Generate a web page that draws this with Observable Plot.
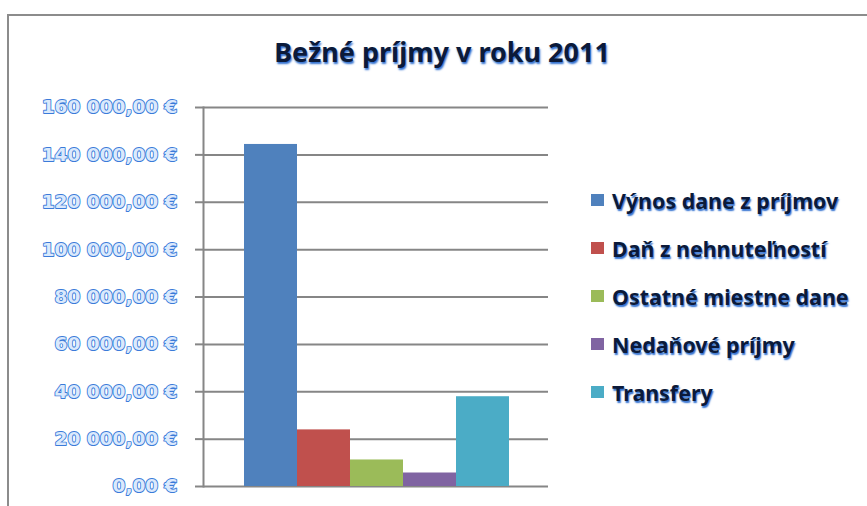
<!DOCTYPE html>
<html>
<head>
<meta charset="utf-8">
<script src="https://cdn.jsdelivr.net/npm/d3@7"></script>
<script src="https://cdn.jsdelivr.net/npm/@observablehq/plot@0.6"></script>
<style>
  html, body { margin: 0; padding: 0; background: #fff; }
  #wrap { position: relative; width: 867px; height: 506px; overflow: hidden; font-family: "Noto Sans", Lato, sans-serif; }
  #border { position: absolute; left: 7px; top: 14px; width: 900px; height: 600px; border-left: 2px solid #8c8c8c; border-top: 2px solid #8c8c8c; box-sizing: border-box; }
  #title { position: absolute; left: 0; width: 884px; top: 34px; text-align: center; font-size: 27px; line-height: 1.362; font-weight: bold; color: #0b1a3a; text-shadow: 1px 2px 2px #2f6fd0; }
  #legend { position: absolute; left: 591px; top: 176px; }
  .item { height: 48px; display: flex; align-items: center; font-size: 21.4px; font-weight: bold; color: #0b1a3a; text-shadow: 1px 1.5px 1.5px #2f6fd0; }
  .sw { width: 13px; height: 12px; margin-right: 8px; flex: none; }
  #chart { position: absolute; left: 0; top: 0; }
</style>
</head>
<body>
<div id="wrap">
  <div id="border"></div>
  <div id="chart"></div>
  <div id="title"></div>
  <div id="legend"></div>
</div>
<script>
const title = "Bežné príjmy v roku 2011";
const series = ["Výnos dane z príjmov", "Daň z nehnuteľností", "Ostatné miestne dane", "Nedaňové príjmy", "Transfery"];
const values = [144400, 23900, 11200, 5700, 37900];
const colors = ["#4f81bd", "#c0504d", "#9bbb59", "#8064a2", "#4bacc6"];
const yTicks = [0, 20000, 40000, 60000, 80000, 100000, 120000, 140000, 160000];
const yTickLabels = ["0,00 €", "20 000,00 €", "40 000,00 €", "60 000,00 €", "80 000,00 €", "100 000,00 €", "120 000,00 €", "140 000,00 €", "160 000,00 €"];

const data = series.map((s, i) => ({name: s, value: values[i]}));

document.getElementById("title").textContent = title;
const legend = document.getElementById("legend");
series.forEach((s, i) => {
  const item = document.createElement("div");
  item.className = "item";
  const sw = document.createElement("span");
  sw.className = "sw";
  sw.style.background = colors[i];
  item.appendChild(sw);
  item.appendChild(document.createTextNode(s));
  legend.appendChild(item);
});

const chart = Plot.plot({
  width: 867,
  height: 506,
  marginLeft: 203,
  marginRight: 319,
  marginTop: 107,
  marginBottom: 20,
  style: {fontFamily: "'DejaVu Sans', sans-serif", background: "transparent"},
  x: {domain: series, padding: 0, insetLeft: 40, insetRight: 39, axis: null},
  y: {domain: [0, 160000]},
  color: {domain: series, range: colors},
  marks: [
    Plot.gridY(yTicks, {stroke: "#868686", strokeOpacity: 1, strokeWidth: 2}),
    Plot.barY(data, {x: "name", y: "value", fill: "name"}),
    Plot.frame({anchor: "left", stroke: "#868686", strokeWidth: 2}),
    Plot.axisY({
      ticks: yTicks,
      tickFormat: (d) => yTickLabels[yTicks.indexOf(d)],
      tickSize: 8,
      tickPadding: 18,
      stroke: "#868686",
      strokeWidth: 2,
      fill: "#dbe9fc",
      textStroke: "#3b7bd9",
      textStrokeWidth: 1.8,
      fontSize: 18.5,
      fontWeight: "bold",
      label: null
    })
  ]
});
document.getElementById("chart").appendChild(chart);
</script>
</body>
</html>
